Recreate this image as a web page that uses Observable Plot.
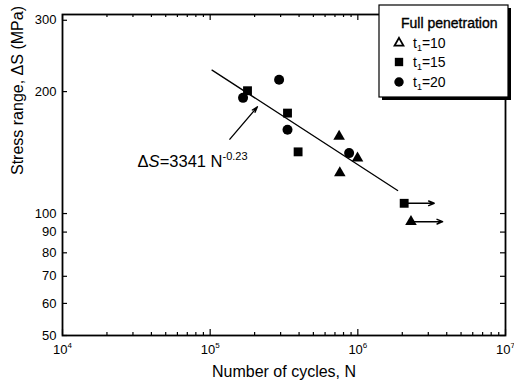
<!DOCTYPE html>
<html><head><meta charset="utf-8">
<script src="https://cdn.jsdelivr.net/npm/d3@7"></script>
<script src="https://cdn.jsdelivr.net/npm/@observablehq/plot@0.6"></script>
<style>
body{margin:0;background:#fff;}
#chart{position:relative;width:514px;height:389px;}
</style>
</head><body><div id="chart"></div>
<script>
// ---- data ----
const triN = [7.47e5, 9.95e5, 7.55e5, 2.29e6];   // t1 = 10
const triS = [155, 137, 126, 95.5];
const sqN  = [1.79e5, 3.34e5, 3.94e5, 2.06e6];   // t1 = 15
const sqS  = [201, 177, 142, 106];
const cirN = [2.93e5, 1.67e5, 3.34e5, 8.73e5];   // t1 = 20
const cirS = [214, 193, 161, 141];
const fitN = [1.03e5, 1.86e6];                   // fitted S-N line
const fitS = [226, 114];
const runoutN   = [2.06e6, 2.29e6];              // run-out specimens
const runoutS   = [106, 95.5];
const runoutEnd = [3.29e6, 3.75e6];
const noteArrowN = [1.36e5, 2.09e5];             // annotation arrow tail, tip
const noteArrowS = [152.6, 183.5];
const noteN = 3.225e4, noteS = 134;
const noteText = "ΔS=3341 N^-0.23";
const xMajor = [1e4, 1e5, 1e6, 1e7];
const xMinorMult = [2, 3, 4, 5, 6, 7, 8, 9];
const yTicks = [50, 60, 70, 80, 90, 100, 200, 300];
const xTitle = "Number of cycles, N";
const yTitle = "Stress range, ΔS (MPa)";
const legendTitle = "Full penetration";
const legendLabels = ["10", "15", "20"];

// ---- layout ----
const W = 514, H = 389, mL = 62, mR = 9, mT = 14, mB = 54;
const pw = W - mL - mR, ph = H - mT - mB;
const majorLen = 6, minorLen = 3;
const xMinor = [];
for (let e = 4; e < 7; e++) for (const k of xMinorMult) xMinor.push(k * 10 ** e);

const pts = [
  ...triN.map((n, i) => ({n, s: triS[i], sym: "triangle"})),
  ...sqN.map((n, i) => ({n, s: sqS[i], sym: "square"})),
  ...cirN.map((n, i) => ({n, s: cirS[i], sym: "circle"}))
];
const fit = fitN.map((n, i) => ({n, s: fitS[i]}));
const runouts = runoutN.map((n, i) => ({n, s: runoutS[i], e: runoutEnd[i]}));
const note = [{n1: noteArrowN[0], s1: noteArrowS[0], n2: noteArrowN[1], s2: noteArrowS[1]}];

const tickStyle = {stroke: "black", strokeWidth: 1.2};
const plot = Plot.plot({
  width: W, height: H,
  marginLeft: mL, marginRight: mR, marginTop: mT, marginBottom: mB,
  x: {type: "log", domain: [1e4, 1e7], axis: null},
  y: {type: "log", domain: [50, 310], axis: null},
  style: {fontFamily: "'Liberation Sans', Arial, sans-serif", background: "white", color: "black"},
  marks: [
    Plot.ruleX(xMajor, {x: d => d, insetTop: ph - majorLen, ...tickStyle}),
    Plot.ruleX(xMajor, {x: d => d, insetBottom: ph - majorLen, ...tickStyle}),
    Plot.ruleX(xMinor, {x: d => d, insetTop: ph - minorLen, ...tickStyle}),
    Plot.ruleX(xMinor, {x: d => d, insetBottom: ph - minorLen, ...tickStyle}),
    Plot.ruleY(yTicks, {y: d => d, insetRight: pw - 5, ...tickStyle}),
    Plot.ruleY(yTicks, {y: d => d, insetLeft: pw - 5, ...tickStyle}),
    Plot.frame({stroke: "black", strokeWidth: 1.8}),
    Plot.text(yTicks, {y: d => d, frameAnchor: "left", text: d => String(d), textAnchor: "end", dx: -6, fontSize: 13, fill: "black"}),
    Plot.text(xMajor, {x: d => d, frameAnchor: "bottom", text: d => "10^" + Math.round(Math.log10(d)), dy: 18, fontSize: 13, fill: "black"}),
    Plot.text([xTitle], {frameAnchor: "bottom", text: d => d, dy: 41, fontSize: 16, fill: "black"}),
    Plot.text([yTitle], {frameAnchor: "left", text: d => d, dx: -45, dy: 0, rotate: -90, fontSize: 16, fill: "black"}),
    Plot.line(fit, {x: "n", y: "s", stroke: "black", strokeWidth: 1.3}),
    Plot.arrow(runouts, {x1: "n", y1: "s", x2: "e", y2: "s", stroke: "black", strokeWidth: 1.5, headLength: 6, headAngle: 45}),
    Plot.arrow(note, {x1: "n1", y1: "s1", x2: "n2", y2: "s2", stroke: "black", strokeWidth: 1.3, headLength: 7, headAngle: 35}),
    Plot.dot(pts.filter(d => d.sym === "triangle"), {x: "n", y: "s", symbol: "triangle", r: 4.3, fill: "black"}),
    Plot.dot(pts.filter(d => d.sym === "square"), {x: "n", y: "s", symbol: "square", r: 5, fill: "black"}),
    Plot.dot(pts.filter(d => d.sym === "circle"), {x: "n", y: "s", symbol: "circle", r: 5, fill: "black"}),
    Plot.text([noteText], {x: noteN, y: noteS, text: d => d, textAnchor: "start", fontSize: 16.5, fill: "black"})
  ]
});
document.getElementById("chart").appendChild(plot);

// ---- superscripts / italics in text ----
const svg = d3.select(plot);
svg.selectAll("text").each(function () {
  const t = this.textContent;
  const m = t.match(/^10\^(\d)$/);
  const sel = d3.select(this);
  if (m) {
    sel.text("");
    sel.append("tspan").text("10");
    sel.append("tspan").attr("dy", -6).attr("font-size", 8).text(m[1]);
  } else if (t === noteText) {
    sel.text("");
    sel.append("tspan").text("Δ");
    sel.append("tspan").attr("font-style", "italic").text("S");
    sel.append("tspan").text("=3341 N");
    sel.append("tspan").attr("dy", -7).attr("font-size", 11).text("-0.23");
  }
});

// ---- legend box (inside the plot, top-right) ----
const lx = 379, ly = 5, lw = 129, lh = 92;
const g = svg.append("g")
  .attr("font-family", "'Liberation Sans', Arial, sans-serif")
  .attr("text-anchor", "start")
  .attr("fill", "black");
g.append("rect").attr("x", lx + 3).attr("y", ly + 3).attr("width", lw).attr("height", lh).attr("fill", "black");
g.append("rect").attr("x", lx).attr("y", ly).attr("width", lw).attr("height", lh).attr("fill", "white").attr("stroke", "black").attr("stroke-width", 1.2);
g.append("text").attr("x", 401).attr("y", 28).attr("font-size", 14).attr("text-anchor", "start")
  .attr("stroke", "black").attr("stroke-width", 0.35).text(legendTitle);
const syms = [d3.symbolTriangle, d3.symbolSquare, d3.symbolCircle];
const rows = [43, 62, 82];
legendLabels.forEach((lab, i) => {
  const p = g.append("path")
    .attr("transform", `translate(399,${rows[i]})`)
    .attr("d", d3.symbol(syms[i], i === 0 ? 34 : 70)());
  if (i === 0) p.attr("fill", "none").attr("stroke", "black").attr("stroke-width", 1.8);
  else p.attr("fill", "black");
  const t = g.append("text").attr("x", 413).attr("y", rows[i] + 5).attr("font-size", 14).attr("text-anchor", "start");
  t.append("tspan").text("t");
  t.append("tspan").attr("dy", 3).attr("font-size", 9).text("1");
  t.append("tspan").attr("dy", -3).text("=" + lab);
});
</script>
</body></html>
